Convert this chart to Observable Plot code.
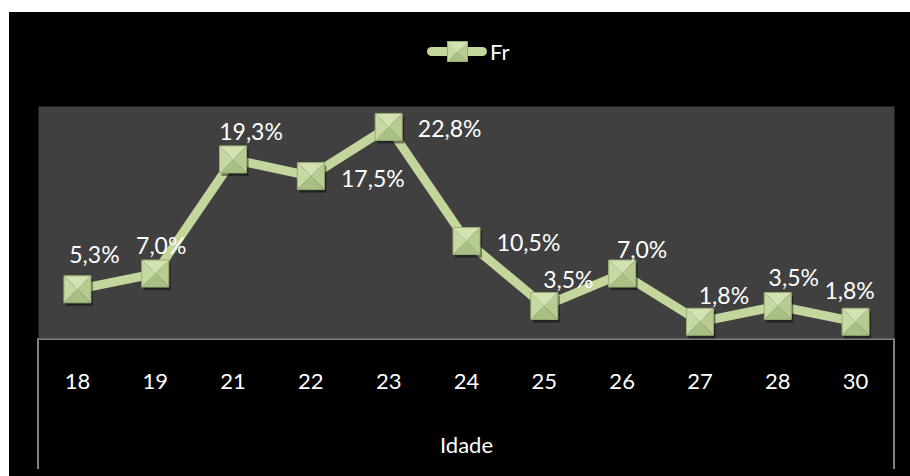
<!DOCTYPE html>
<html>
<head>
<meta charset="utf-8">
<script src="https://cdn.jsdelivr.net/npm/d3@7"></script>
<script src="https://cdn.jsdelivr.net/npm/@observablehq/plot@0.6"></script>
<style>
  body { margin: 0; background: #fff; width: 910px; height: 476px; overflow: hidden; position: relative; font-family: Lato, "Open Sans", sans-serif; }
  #panel { position: absolute; left: 9px; top: 12px; width: 901px; height: 464px; background: #000; overflow: hidden; }
  #chart { position: absolute; left: 0; top: 0; }
  #axisbox { position: absolute; left: 28px; top: 326px; width: 858px; height: 131px; box-sizing: border-box;
             border: 2px solid #7f7f7f; border-bottom: none; }
  #legend-line { position: absolute; left: 418px; top: 35px; width: 60px; height: 9px; border-radius: 5px; background: #c3d69b; }
  #legend-marker { position: absolute; left: 438px; top: 29px; width: 21px; height: 21px; box-sizing: border-box;
             border: 1px solid #98ae74;
             background: conic-gradient(from -45deg, #d3e2b3 0deg 90deg, #b8cc92 90deg 180deg, #a9bf83 180deg 270deg, #c6d9a2 270deg 360deg); }
  #legend-text { position: absolute; left: 481px; top: 25px; font-size: 22px; line-height: 30px; color: #fff; }
</style>
</head>
<body>
<div id="panel">
  <div id="axisbox"></div>
  <div id="chart"></div>
  <div id="legend-line"></div>
  <div id="legend-marker"></div>
  <div id="legend-text">Fr</div>
</div>
<script>
// Data
const ages = ["18", "19", "21", "22", "23", "24", "25", "26", "27", "28", "30"];
const fr = [5.3, 7.0, 19.3, 17.5, 22.8, 10.5, 3.5, 7.0, 1.8, 3.5, 1.8];
const seriesName = "Fr";
const xTitle = "Idade";
// label placement offsets (px) relative to each marker
const labelDx = [17, 6, 18, 62, 61, 62, 24, 20, 24, 16, -6];
const labelDy = [-34, -27, -27, 4, 3, 3, -25, -23, -25, -27, -30];

const rows = ages.map((a, i) => ({age: a, value: fr[i]}));
const fmt = v => v.toFixed(1).replace(".", ",") + "%";

const poly = pts => ({
  draw(ctx, size) {
    const h = Math.sqrt(size) / 2;
    ctx.moveTo(pts[0][0] * h, pts[0][1] * h);
    for (let k = 1; k < pts.length; k++) ctx.lineTo(pts[k][0] * h, pts[k][1] * h);
    ctx.closePath();
  }
});
const faceTop = poly([[-1, -1], [1, -1], [0, 0]]);
const faceRight = poly([[1, -1], [1, 1], [0, 0]]);
const faceBottom = poly([[1, 1], [-1, 1], [0, 0]]);
const faceLeft = poly([[-1, 1], [-1, -1], [0, 0]]);
const square = poly([[-1, -1], [1, -1], [1, 1], [-1, 1]]);
const R = 27 / Math.sqrt(Math.PI);

const dotOpts = (sym, fill, extra = {}) => Plot.dot(rows, {x: "age", y: "value", symbol: sym, r: R, fill, stroke: "none", ...extra});

const labelMarks = rows.map((d, i) => Plot.text([d], {
  x: "age", y: "value", text: r => fmt(r.value), dx: labelDx[i], dy: labelDy[i],
  fill: "#fff", fontSize: 23, fontFamily: "Lato"
}));

const chart = Plot.plot({
  width: 901,
  height: 464,
  marginTop: 94,
  marginBottom: 138,
  marginLeft: 29,
  marginRight: 16,
  style: {background: "transparent", color: "#fff", fontFamily: "Lato", fontSize: "22px"},
  x: {type: "point", domain: ages, padding: 0.5, round: false, label: null, tickSize: 0, tickPadding: 35},
  y: {domain: [0, 25], axis: null},
  marks: [
    Plot.frame({fill: "#404040", stroke: "none"}),
    Plot.line(rows, {x: "age", y: "value", stroke: "#c3d69b", strokeWidth: 9, strokeLinejoin: "miter"}),
    dotOpts(square, "#000", {fillOpacity: 0.45, dx: 2, dy: 3}),
    dotOpts(faceTop, "#d3e2b3"),
    dotOpts(faceRight, "#b8cc92"),
    dotOpts(faceBottom, "#a9bf83"),
    dotOpts(faceLeft, "#c6d9a2"),
    Plot.dot(rows, {x: "age", y: "value", symbol: square, r: R, fill: "none", stroke: "#98ae74", strokeWidth: 1}),
    ...labelMarks,
    Plot.text([xTitle], {frameAnchor: "bottom", dy: 114, fill: "#fff", fontSize: 22, fontFamily: "Lato"})
  ]
});
document.getElementById("chart").appendChild(chart);
</script>
</body>
</html>
